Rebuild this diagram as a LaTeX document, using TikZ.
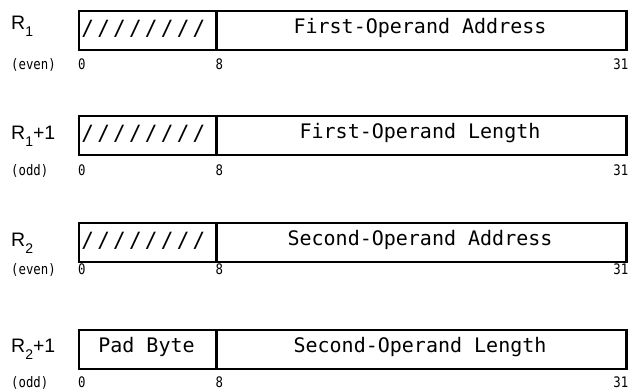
\documentclass[tikz,border=0pt]{standalone}
\usepackage{fontspec}
\newfontfamily\monof{DejaVu Sans Mono}
\newfontfamily\monobit[FakeStretch=0.85]{DejaVu Sans Mono}
\newfontfamily\labf{Liberation Sans}
\begin{document}
\begin{tikzpicture}[x=1pt,y=-1pt,
  fieldbox/.style={draw,line width=2.5pt,rectangle,inner sep=0pt,anchor=north west,minimum height=39pt},
  maintext/.style={inner sep=0pt,anchor=base,font=\monof\fontsize{20}{20}\selectfont},
  slashtext/.style={inner sep=0pt,anchor=base,font=\monof\fontsize{21}{21}\selectfont},
  bittext/.style={inner sep=0pt,font=\monobit\fontsize{14.5}{14.5}\selectfont},
  regtext/.style={inner sep=0pt,anchor=base west,font=\labf\fontsize{19.5}{19.5}\selectfont}]
\useasboundingbox (0,0) rectangle (636,391);
\newcommand{\regsub}[1]{\raisebox{-0.35em}{\fontsize{14}{14}\selectfont #1}}
% rows: index / top / reg baseline / bit baseline / reg label / parity / right text / left is pad?
\foreach \i/\tp/\rb/\bb/\reg/\parity/\txt/\pad in {
  1/9.5/29.3/69.3/R\regsub{1}/(even)/First-Operand Address/0,
  2/114.5/139.3/175.5/R\regsub{1}+1/(odd)/First-Operand Length/0,
  3/221.7/246.7/274/R\regsub{2}/(even)/Second-Operand Address/0,
  4/328.7/352.7/387/R\regsub{2}+1/(odd)/Second-Operand Length/1}{
  \node[fieldbox,minimum width=137.5pt] (fa\i) at (77.5,\tp) {};
  \node[fieldbox,minimum width=410pt] (fb\i) at (215,\tp) {};
  \node[maintext] (tb\i) at (420,\tp+24) {\txt};
  \ifnum\pad=1
    \node[maintext] (ta\i) at (146.5,\tp+24) {Pad Byte};
  \else
    \foreach \k in {0,...,7}{
      \node[slashtext] (s\i-\k) at (87.7+15.9*\k,\tp+26) {/};
    }
  \fi
  \node[regtext] (r\i) at (11,\rb) {\reg};
  \node[bittext,anchor=base west] (p\i) at (11,\bb) {\parity};
  \node[bittext,anchor=base west] (z\i) at (78,\bb) {0};
  \node[bittext,anchor=base west] (e\i) at (215.5,\bb) {8};
  \node[bittext,anchor=base east] (h\i) at (628.5,\bb) {31};
}
\end{tikzpicture}
\end{document}
